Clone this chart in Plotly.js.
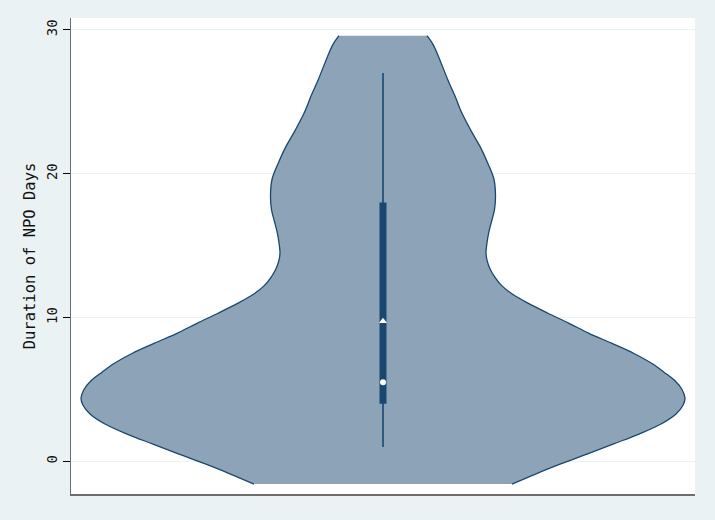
<!DOCTYPE html>
<html>
<head>
<meta charset="utf-8">
<script src="https://cdn.plot.ly/plotly-3.0.1.min.js"></script>
<style>
  html, body { margin: 0; padding: 0; background: #eaf2f3; }
  #chart { width: 715px; height: 520px; }
</style>
</head>
<body>
<div id="chart"></div>
<script>
// Kernel density outline: NPO days value and scaled half-width of the violin
const densityDays = [-1.58, -0.9, -0.2, 0.5, 1.2, 1.9, 2.6, 3.3, 3.9, 4.4, 5.0, 5.6, 6.2, 6.8, 7.5, 8.2, 8.9, 9.6, 10.3, 11.0, 11.6, 12.2, 12.8, 13.4, 14.0, 14.5, 15.2, 16.0, 16.8, 17.5, 18.4, 19.6, 20.7, 21.9, 23.0, 24.2, 25.4, 26.5, 27.9, 28.4, 29.0, 29.6];
const densityWidth = [129, 152, 177, 204, 230, 256, 278, 293, 300, 302, 299, 292, 281, 269, 251, 229, 206, 186, 165, 145, 130, 119, 112, 107, 104, 103, 104, 106, 109, 111.5, 112.5, 111, 105, 97, 88, 79, 72, 65, 57, 54, 50, 44];

// Box summary
const whiskerLow = 1;
const q1 = 4;
const median = 5.5;
const meanValue = 9.75;
const q3 = 18;
const whiskerHigh = 27;

const yTicks = [0, 10, 20, 30];
const yTickLabels = ['0', '10', '20', '30'];
const yTitle = 'Duration of NPO Days';

// Both sides of the violin, bottom to top
const rx = densityWidth.map(w => w);
const lx = densityWidth.map(w => -w);

const navy = '#1a476f';
const font = "'DejaVu Sans Mono', 'Liberation Mono', monospace";

const traces = [
  {
    x: rx, y: densityDays, type: 'scatter', mode: 'lines',
    line: { color: navy, width: 1.3, shape: 'spline', smoothing: 1 }, showlegend: false
  },
  {
    x: lx, y: densityDays, type: 'scatter', mode: 'lines', fill: 'tonextx', fillcolor: '#8da3b7',
    line: { color: navy, width: 1.3, shape: 'spline', smoothing: 1 }, showlegend: false
  },
  {
    x: [0, 0], y: [whiskerLow, whiskerHigh], type: 'scatter', mode: 'lines',
    line: { color: navy, width: 1.6 }, showlegend: false
  },
  {
    x: [0, 0], y: [q1, q3], type: 'scatter', mode: 'lines',
    line: { color: navy, width: 7 }, showlegend: false
  },
  {
    x: [0], y: [median], type: 'scatter', mode: 'markers',
    marker: { symbol: 'circle', color: 'white', size: 6 }, showlegend: false
  },
  {
    x: [0], y: [meanValue], type: 'scatter', mode: 'markers',
    marker: { symbol: 'triangle-up', color: 'white', size: 7 }, showlegend: false
  }
];

const layout = {
  width: 715, height: 520,
  paper_bgcolor: '#eaf2f3', plot_bgcolor: '#ffffff',
  margin: { l: 71, r: 20, t: 18, b: 26 },
  showlegend: false,
  font: { family: font, color: '#000000' },
  xaxis: {
    range: [-312, 312], showgrid: false, zeroline: false, showticklabels: false,
    ticks: '', showline: true, linecolor: '#6e6e6e', linewidth: 1.5, fixedrange: true
  },
  yaxis: {
    range: [-2.27, 30.83], tickvals: yTicks, ticktext: yTickLabels,
    tickangle: -90, ticks: 'outside', ticklen: 7, tickwidth: 1, tickcolor: '#000000',
    tickfont: { family: font, size: 14, color: '#111111' },
    showgrid: true, gridcolor: '#eaf2f3', gridwidth: 1, zeroline: false,
    showline: true, linecolor: '#6e6e6e', linewidth: 1.5,
    title: { text: yTitle, font: { family: font, size: 15.5, color: '#111111' }, standoff: 4 },
    fixedrange: true
  }
};

Plotly.newPlot('chart', traces, layout, { displayModeBar: false, staticPlot: true });
</script>
</body>
</html>
